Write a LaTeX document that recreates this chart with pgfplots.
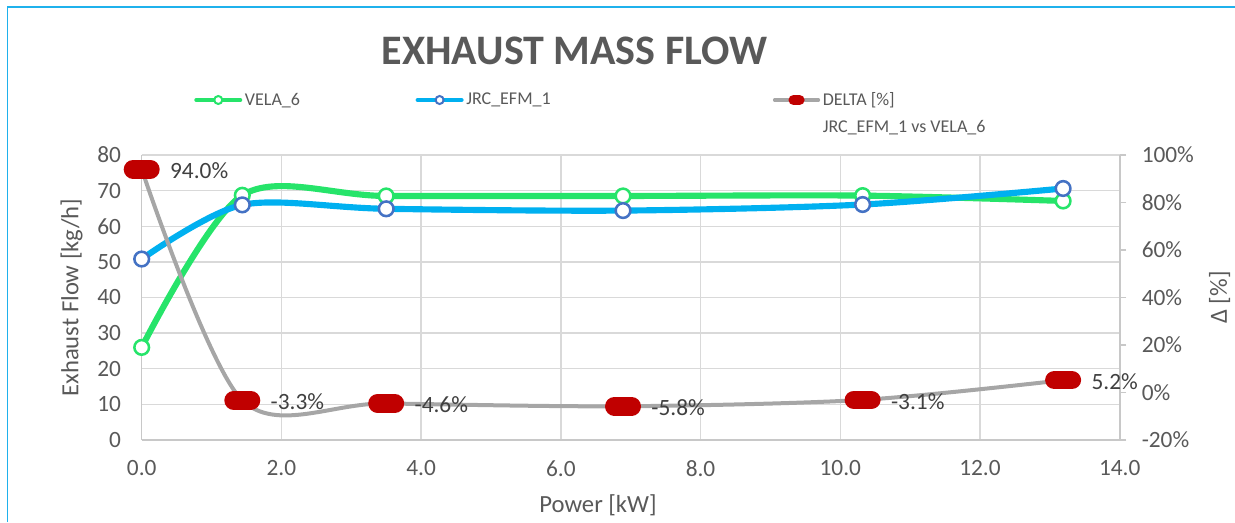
\documentclass[border=0pt]{standalone}
\usepackage{fontspec}
\setmainfont{Carlito}
\usepackage{pgfplots}
\pgfplotsset{compat=1.18}
\definecolor{velagreen}{HTML}{26E46A}
\definecolor{jrcblue}{HTML}{00B0F0}
\definecolor{jrcmark}{HTML}{4472C4}
\definecolor{deltagray}{HTML}{A6A6A6}
\definecolor{excelred}{HTML}{C00000}
\definecolor{ticktext}{HTML}{595959}
\definecolor{labeltext}{HTML}{404040}
\definecolor{gridgray}{HTML}{D9D9D9}
\definecolor{axisgray}{HTML}{C8C8C8}
\definecolor{frameblue}{HTML}{1FB1EC}
\pgfdeclareplotmark{pill}{%
  \pgfsetlinewidth{14pt}\pgfsetroundcap
  \pgfpathmoveto{\pgfqpoint{-6.5pt}{0pt}}\pgfpathlineto{\pgfqpoint{6.5pt}{0pt}}\pgfusepathqstroke}
\pgfdeclareplotmark{smallpill}{%
  \pgfsetlinewidth{7.5pt}\pgfsetroundcap
  \pgfpathmoveto{\pgfqpoint{-2.3pt}{0pt}}\pgfpathlineto{\pgfqpoint{2.3pt}{0pt}}\pgfusepathqstroke}
\pgfplotstableread{
x y
0     26.0
1.44  68.7
3.50  68.5
6.89  68.5
10.32 68.6
13.19 67.1
}\velatable
\pgfplotstableread{
x y
0     50.8
1.44  66.0
3.50  64.9
6.89  64.4
10.32 66.1
13.19 70.6
}\jrctable
\pgfplotstableread{
x y label
0     94.0  94.0\%
1.44  -3.3  -3.3\%
3.50  -4.6  -4.6\%
6.89  -5.8  -5.8\%
10.32 -3.1  -3.1\%
13.19 5.2   5.2\%
}\deltatable
\begin{document}
\begin{tikzpicture}[x=0.75pt,y=0.75pt]
\useasboundingbox (-141.7,-82) rectangle (1093.3,440);
\draw[frameblue, line width=1.2pt] (-134.3,-82) -- (-134.3,432.7) -- (1093.3,432.7);
\node[font=\fontsize{31.5}{36}\selectfont\bfseries, text=ticktext] at (432.8,389) {EXHAUST MASS FLOW};
\begin{axis}[
  at={(0pt,0pt)}, anchor=south west, scale only axis,
  width=733.5pt, height=213.75pt,
  xmin=0, xmax=14, ymin=0, ymax=80,
  xtick={0,2,...,14}, ytick={0,10,...,80},
  axis x line*=bottom, axis y line*=left,
  axis line style={axisgray, line width=1.2pt, -},
  major tick length=0pt,
  grid=major, major grid style={gridgray, line width=1pt},
  tick label style={font=\fontsize{17.5}{21}\selectfont, text=ticktext},
  /pgf/number format/assume math mode=true,
  xticklabel style={/pgf/number format/fixed, /pgf/number format/fixed zerofill, /pgf/number format/precision=1, yshift=-12pt},
  yticklabel style={xshift=-12pt},
  xlabel={Power [kW]}, ylabel={Exhaust Flow [kg/h]},
  label style={font=\fontsize{18.5}{22}\selectfont, text=ticktext},
  xlabel style={at={(axis description cs:0.4666,-0.228)}, anchor=center},
  ylabel style={at={(axis description cs:-0.0716,0.5)}, anchor=center},
  clip=false,
  legend style={at={(axis description cs:0.0535,1.193)}, anchor=west,
    draw=none, fill=none, inner xsep=0pt, inner ysep=0pt,
    font=\fontsize{13.5}{16}\selectfont, text=ticktext,
    nodes={inner sep=2pt}},
  legend columns=3, legend cell align=left,
  legend image code/.code={%
    \draw[#1, line cap=round, mark repeat=2, mark phase=2] plot coordinates {(1.5pt,0pt) (18pt,0pt) (34.5pt,0pt)};},
]
\addplot[velagreen, line width=4.6pt, smooth, mark=*, mark size=5.5pt,
  mark options={fill=white, draw=velagreen, line width=1.9pt}, forget plot] table[x=x,y=y] {\velatable};
\addplot[jrcblue, line width=4.6pt, smooth, mark=*, mark size=5.5pt,
  mark options={fill=white, draw=jrcmark, line width=1.9pt}, forget plot] table[x=x,y=y] {\jrctable};
\addlegendimage{velagreen, line width=3pt, mark=*, mark size=3pt, mark options={fill=white, draw=velagreen, line width=1.5pt}}
\addlegendentry{\makebox[126pt][l]{VELA\_6}}
\addlegendimage{jrcblue, line width=3pt, mark=*, mark size=3pt, mark options={fill=white, draw=jrcmark, line width=1.5pt}}
\addlegendentry{\makebox[228pt][l]{JRC\_EFM\_1}}
\addlegendimage{deltagray, line width=2.4pt, mark=smallpill, mark options={draw=excelred}}
\addlegendentry{\rlap{\smash{\raisebox{-20pt}{JRC\_EFM\_1 vs VELA\_6}}}DELTA [\%]}
\end{axis}
\begin{axis}[
  at={(0pt,0pt)}, anchor=south west, scale only axis,
  width=733.5pt, height=213.75pt,
  xmin=0, xmax=14, ymin=-20, ymax=100,
  axis x line=none, axis y line*=right,
  axis line style={axisgray, line width=1.2pt, -},
  ytick={-20,0,...,100},
  major tick length=5pt, tick align=outside,
  ytick style={axisgray, line width=1.2pt},
  tick label style={font=\fontsize{17.5}{21}\selectfont, text=ticktext},
  /pgf/number format/assume math mode=true,
  yticklabel={\pgfmathprintnumber{\tick}\%},
  yticklabel style={xshift=8pt},
  ylabel={Δ [\%]},
  label style={font=\fontsize{18.5}{22}\selectfont, text=ticktext},
  ylabel style={at={(axis description cs:1.1022,0.5)}, anchor=center},
  clip=false,
]
\addplot[deltagray, line width=3pt, smooth, mark=pill, mark options={draw=excelred},
  nodes near coords, point meta=explicit symbolic,
  every node near coord/.append style={anchor=west, xshift=11pt, yshift=-1pt,
    font=\fontsize{17.5}{21}\selectfont, text=labeltext}]
  table[x=x,y=y,meta=label] {\deltatable};
\end{axis}
\end{tikzpicture}
\end{document}
